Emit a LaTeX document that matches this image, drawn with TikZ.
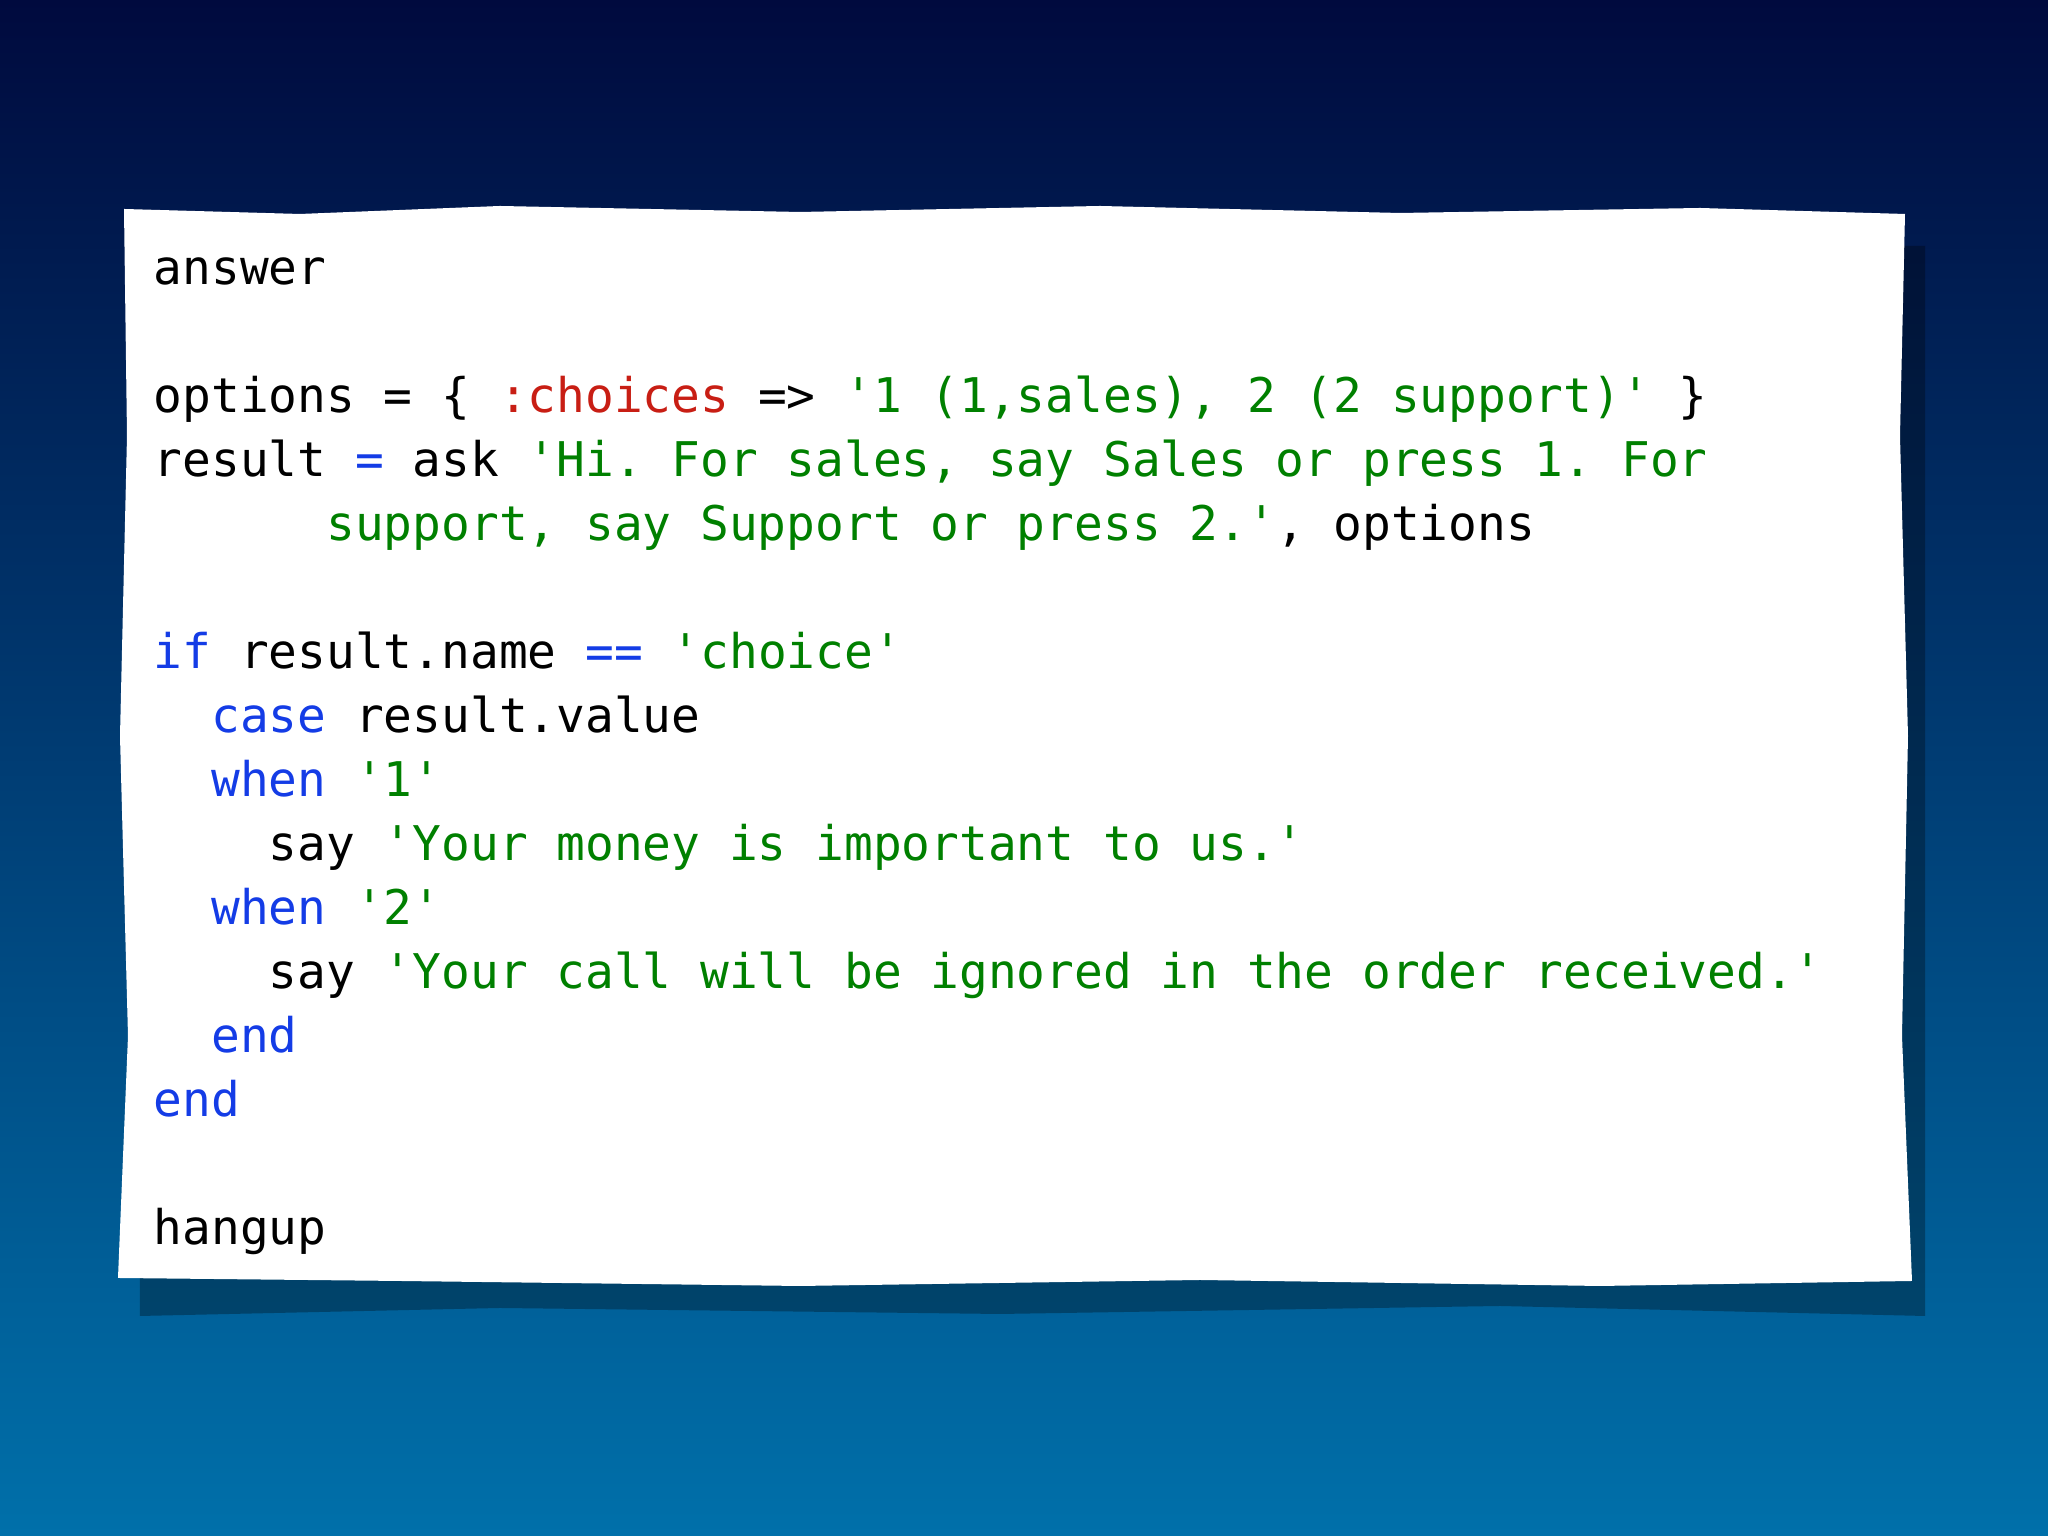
\documentclass[tikz,border=0pt]{standalone}
\usepackage{fontspec}
\setmonofont{DejaVu Sans Mono}
\definecolor{bgtop}{RGB}{0,10,62}
\definecolor{bgbot}{RGB}{0,112,170}
\definecolor{cg}{RGB}{0,128,0}
\definecolor{cr}{RGB}{200,30,20}
\definecolor{cb}{RGB}{20,60,230}
\newcommand{\q}{\char39\relax}
\tikzset{codeline/.style={anchor=base west,inner sep=0pt,font=\ttfamily\fontsize{13.6}{16}\selectfont}}
\begin{document}
\begin{tikzpicture}
\useasboundingbox (0,0) rectangle (20.48,15.36);
\shade[top color=bgtop,bottom color=bgbot] (0,0) rectangle (20.48,15.36);
% shadow
\fill[black,opacity=0.3] (1.4,2.2) -- (5,2.28) -- (10,2.22) -- (15,2.3) -- (19.25,2.2) -- (19.25,12.9) -- (1.4,12.9) -- cycle;
% card
\fill[white] (1.24,13.27) -- (3,13.22) -- (5,13.3) -- (8,13.24) -- (11,13.3) -- (14,13.23) -- (17,13.28) -- (19.05,13.22)
  -- (19.0,11) -- (19.08,8) -- (19.02,5) -- (19.12,2.55)
  -- (16,2.5) -- (12,2.56) -- (8,2.5) -- (4,2.55) -- (1.18,2.58)
  -- (1.28,5) -- (1.2,8) -- (1.27,11) -- cycle;
\def\cw{0.2878}
\node[codeline] (l0) at (1.53,12.51) {answer};
\node[codeline] (l2) at (1.53,12.51-0.64*2) {options = \{ \textcolor{cr}{:choices} => \textcolor{cg}{\q1 (1,sales), 2 (2 support)\q} \}};
\node[codeline] (l3) at (1.53,12.51-0.64*3) {result \textcolor{cb}{=} ask \textcolor{cg}{\q Hi. For sales, say Sales or press 1. For}};
\node[codeline] (l4) at (1.53+6*\cw,12.51-0.64*4) {\textcolor{cg}{support, say Support or press 2.\q}, options};
\node[codeline] (l6) at (1.53,12.51-0.64*6) {\textcolor{cb}{if} result.name \textcolor{cb}{==} \textcolor{cg}{\q choice\q}};
\node[codeline] (l7) at (1.53+2*\cw,12.51-0.64*7) {\textcolor{cb}{case} result.value};
\node[codeline] (l8) at (1.53+2*\cw,12.51-0.64*8) {\textcolor{cb}{when} \textcolor{cg}{\q1\q}};
\node[codeline] (l9) at (1.53+4*\cw,12.51-0.64*9) {say \textcolor{cg}{\q Your money is important to us.\q}};
\node[codeline] (l10) at (1.53+2*\cw,12.51-0.64*10) {\textcolor{cb}{when} \textcolor{cg}{\q2\q}};
\node[codeline] (l11) at (1.53+4*\cw,12.51-0.64*11) {say \textcolor{cg}{\q Your call will be ignored in the order received.\q}};
\node[codeline] (l12) at (1.53+2*\cw,12.51-0.64*12) {\textcolor{cb}{end}};
\node[codeline] (l13) at (1.53,12.51-0.64*13) {\textcolor{cb}{end}};
\node[codeline] (l15) at (1.53,12.51-0.64*15) {hangup};
\end{tikzpicture}
\end{document}
